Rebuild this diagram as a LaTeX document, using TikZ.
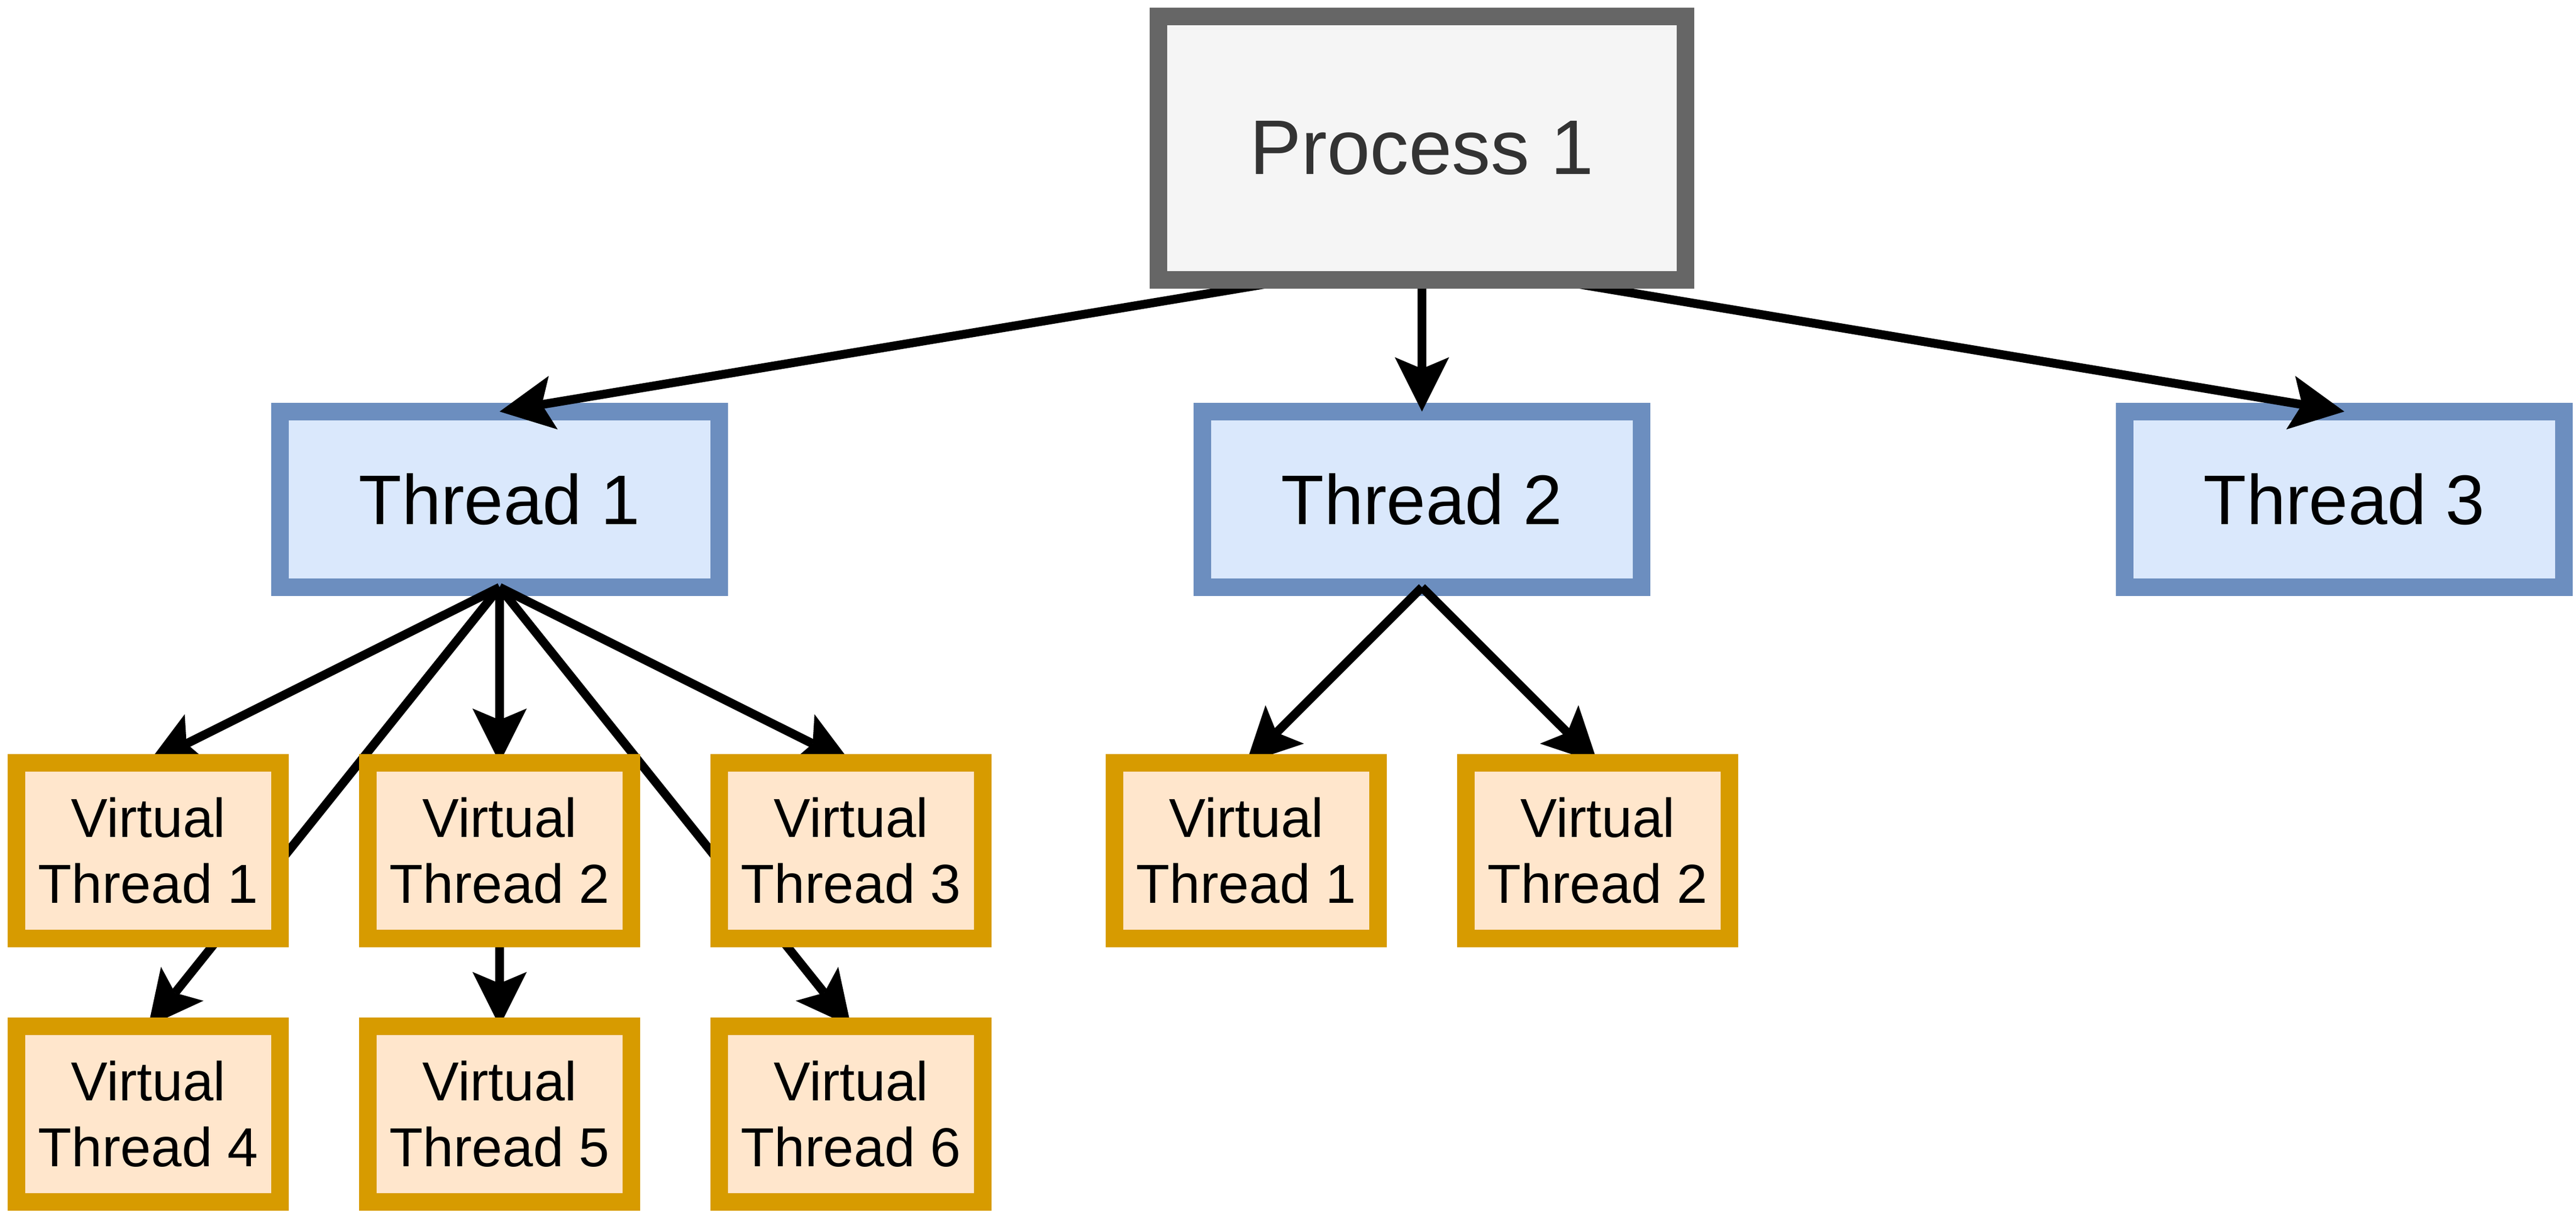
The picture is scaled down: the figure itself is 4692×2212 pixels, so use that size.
\documentclass[tikz,border=0pt]{standalone}
\usepackage{fontspec}
\setmainfont{Liberation Sans}
\usetikzlibrary{arrows.meta,calc}
\definecolor{procfill}{HTML}{F5F5F5}
\definecolor{procline}{HTML}{666666}
\definecolor{proctext}{HTML}{333333}
\definecolor{thfill}{HTML}{DAE8FC}
\definecolor{thline}{HTML}{6C8EBF}
\definecolor{vtfill}{HTML}{FFE6CC}
\definecolor{vtline}{HTML}{D79B00}
\pgfdeclarelayer{threadlayer}
\pgfdeclarelayer{edgelayer}
\pgfsetlayers{threadlayer,edgelayer,main}
\begin{document}
\begin{tikzpicture}[x=0.01cm,y=-0.01cm,
  box/.style={rectangle, inner sep=0pt, outer sep=0pt, line width=0.32cm, align=center},
  procbox/.style={box, draw=procline, fill=procfill, text=proctext, minimum width=9.6cm, minimum height=4.8cm, font=\fontsize{40.1pt}{48pt}\selectfont},
  threadbox/.style={box, draw=thline, fill=thfill, minimum width=8cm, minimum height=3.2cm, font=\fontsize{36.4pt}{43.7pt}\selectfont},
  vtbox/.style={box, draw=vtline, fill=vtfill, minimum width=4.8cm, minimum height=3.2cm, font=\fontsize{28.45pt}{34.14pt}\selectfont},
  edge/.style={line width=0.16cm, -{Stealth[length=0.99cm, width=0.99cm, inset=0.21cm, line width=0pt]}}
]
\begin{pgfonlayer}{threadlayer}
\fill[white] (0,0) rectangle (4692,2212);
\node[threadbox] (t1) at (910,910) {Thread 1};
\node[threadbox] (t2) at (2590,910) {Thread 2};
\node[threadbox] (t3) at (4270,910) {Thread 3};
\end{pgfonlayer}
\useasboundingbox (0,0) rectangle (4692,2212);

\node[procbox] (p) at (2590,270) {Process 1};

\node[vtbox] (v1) at (270,1550) {Virtual\\Thread 1};
\node[vtbox] (v2) at (910,1550) {Virtual\\Thread 2};
\node[vtbox] (v3) at (1550,1550) {Virtual\\Thread 3};
\node[vtbox] (v4) at (270,2030) {Virtual\\Thread 4};
\node[vtbox] (v5) at (910,2030) {Virtual\\Thread 5};
\node[vtbox] (v6) at (1550,2030) {Virtual\\Thread 6};
\node[vtbox] (w1) at (2270,1550) {Virtual\\Thread 1};
\node[vtbox] (w2) at (2910,1550) {Virtual\\Thread 2};

\begin{pgfonlayer}{edgelayer}
\draw[edge] ($(p.south west)!0.25!(p.south east)$) -- (t1.north);
\draw[edge] (p.south) -- (t2.north);
\draw[edge] ($(p.south west)!0.75!(p.south east)$) -- (t3.north);
\draw[edge] (t1.south) -- (v1.north);
\draw[edge] (t1.south) -- (v2.north);
\draw[edge] (t1.south) -- (v3.north);
\draw[edge] (t1.south) -- (v4.north);
\draw[edge] (t1.south) -- (v6.north);
\draw[edge] (v2.south) -- (v5.north);
\draw[edge] (t2.south) -- (w1.north);
\draw[edge] (t2.south) -- (w2.north);
\end{pgfonlayer}
\end{tikzpicture}
\end{document}
